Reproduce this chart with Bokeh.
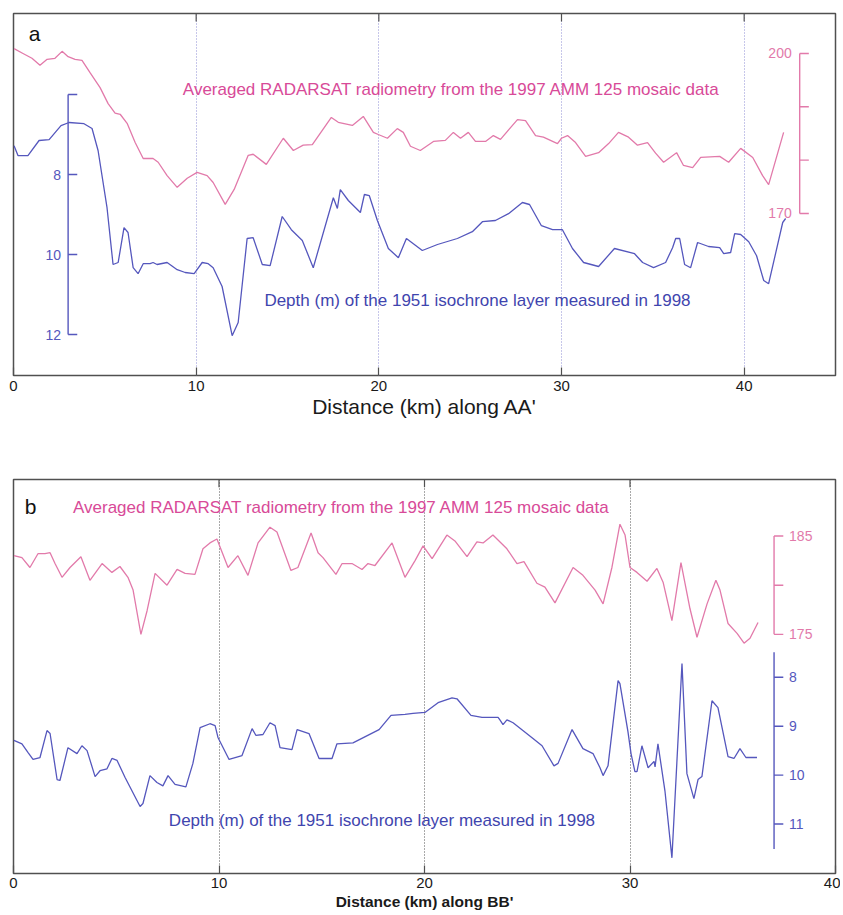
from bokeh.plotting import figure
from bokeh.models import Range1d, FixedTicker
from bokeh.layouts import column
from bokeh.core.properties import value
from bokeh.embed import file_html
from bokeh.resources import INLINE

# ---------------- data: panel a (profile AA') ----------------
a_rad_km = [0.03,0.52,1.01,1.45,1.84,2.27,2.66,2.99,3.37,3.75,4.19,4.74,5.18,5.56,5.84,6.22,6.66,7.10,7.64,7.92,
            8.41,8.96,9.51,10.05,10.60,10.93,11.59,12.08,12.85,13.12,13.84,14.77,15.32,15.86,16.36,17.40,17.78,18.55,19.15,19.70,
            19.97,20.47,21.01,21.34,21.73,22.27,22.99,23.64,24.08,24.47,24.90,25.29,25.84,26.27,26.66,27.21,27.59,28.03,28.58,29.01,
            29.78,30.00,30.33,30.77,31.32,32.03,32.58,33.12,33.67,34.16,34.71,35.15,35.59,36.30,36.68,37.18,37.62,38.66,39.15,39.81,
            40.47,41.01,41.34,42.16]
a_rad = [200.9,200.0,199.1,197.8,198.9,199.1,200.4,199.4,198.9,198.7,196.4,193.6,190.6,188.8,188.6,186.9,183.3,180.3,180.3,179.6,
         177.1,174.9,176.6,177.7,177.1,175.8,171.7,174.5,180.9,181.1,179.2,184.1,181.8,182.8,182.9,188.0,187.1,186.5,188.2,185.2,
         184.8,184.1,185.9,185.2,182.6,181.8,183.5,183.7,185.2,184.1,185.2,183.5,183.5,184.6,183.9,186.1,187.6,187.4,184.6,184.3,
         183.1,184.1,184.6,183.3,180.7,181.4,183.1,185.2,184.3,182.8,183.3,181.3,179.6,181.4,179.0,178.6,180.5,180.7,179.6,182.2,
         180.5,177.1,175.4,185.2]
a_dep_km = [0.03,0.25,0.79,1.40,1.95,2.60,3.04,3.86,4.30,4.63,5.12,5.45,5.73,6.05,6.27,6.55,6.82,7.10,7.48,7.64,
            7.86,8.41,8.96,9.40,9.89,10.33,10.66,10.93,11.42,11.97,12.30,12.79,13.12,13.62,14.05,14.71,15.21,15.81,16.41,17.51,
            17.73,17.89,18.33,18.99,19.21,19.48,19.92,20.52,21.07,21.51,21.89,22.38,23.21,24.30,25.12,25.67,26.38,27.10,27.86,28.25,
            28.90,29.51,30.05,30.60,31.21,32.03,32.90,34.00,34.44,35.04,35.70,36.08,36.25,36.47,36.74,37.07,37.45,38.05,38.66,38.88,
            39.26,39.48,39.81,40.25,40.68,41.07,41.34,42.11,42.27]
a_dep = [7.28,7.53,7.53,7.15,7.13,6.78,6.70,6.73,6.85,7.40,8.83,10.25,10.20,9.33,9.45,10.33,10.48,10.23,10.23,10.20,
         10.25,10.20,10.38,10.45,10.48,10.20,10.23,10.33,10.80,12.03,11.70,9.60,9.58,10.25,10.28,9.05,9.38,9.65,10.33,8.58,
         8.85,8.38,8.65,8.95,8.50,8.53,9.15,9.85,10.08,9.60,9.73,9.90,9.75,9.60,9.43,9.18,9.15,8.98,8.70,8.75,
         9.28,9.38,9.38,9.85,10.20,10.30,9.85,9.98,10.20,10.33,10.20,9.83,9.60,9.60,10.25,10.33,9.70,9.80,9.83,9.98,
         9.95,9.48,9.50,9.68,10.03,10.65,10.73,9.20,9.10]

# ---------------- data: panel b (profile BB') ----------------
b_rad_km = [0.02,0.41,0.80,1.19,1.53,1.78,2.02,2.36,2.75,3.28,3.72,4.31,4.79,5.18,5.57,5.82,6.20,6.50,6.89,7.47,
            7.96,8.35,8.83,9.22,9.56,9.90,10.44,10.92,11.41,11.90,12.48,12.82,13.50,13.84,14.48,14.82,15.06,15.69,15.99,16.47,
            16.96,17.25,17.59,18.42,19.05,19.54,19.93,20.37,21.09,21.48,22.07,22.55,22.85,23.33,24.01,24.50,24.84,25.47,25.86,26.35,
            27.23,27.71,28.30,28.69,29.12,29.51,29.76,30.00,30.34,30.83,31.31,31.61,32.04,32.48,32.92,33.26,33.75,34.18,34.38,34.77,
            35.21,35.55,35.84,36.23]
b_rad = [183.0,182.8,181.8,183.2,183.2,183.3,182.2,180.8,181.8,182.9,180.5,182.2,181.3,181.9,180.8,179.5,175.0,177.4,181.2,180.0,
         181.6,181.2,181.1,183.7,184.3,184.7,181.8,183.0,181.0,184.3,185.9,185.4,181.5,181.8,185.3,183.3,182.8,181.1,182.2,182.2,
         181.6,182.2,182.0,184.3,180.8,182.5,184.0,182.7,185.1,184.5,182.9,184.4,184.3,185.1,183.7,182.2,182.4,180.2,179.8,178.2,
         181.8,181.0,179.5,178.1,181.8,186.2,185.1,181.8,181.3,180.4,181.7,180.3,176.4,182.3,177.6,174.7,178.1,180.5,179.5,176.1,
         175.1,174.1,174.6,176.2]
b_dep_km = [0.02,0.41,0.71,0.95,1.29,1.63,1.78,2.12,2.26,2.65,3.09,3.33,3.58,3.97,4.21,4.55,4.79,5.04,5.43,6.16,
            6.30,6.64,6.98,7.27,7.52,7.86,8.39,8.73,9.08,9.56,9.81,9.95,10.49,11.12,11.61,11.80,12.14,12.48,12.73,12.97,
            13.55,13.80,14.38,14.87,15.50,15.74,16.52,17.79,18.37,19.05,19.44,20.02,20.66,21.34,21.58,22.26,22.80,23.58,23.67,23.82,
            24.01,24.31,25.28,25.72,26.30,26.50,27.18,27.71,28.20,28.54,28.69,28.93,29.42,29.51,29.90,30.05,30.24,30.34,30.58,30.88,
            31.17,31.22,31.36,31.70,32.04,32.53,32.77,33.11,33.31,33.50,33.99,34.28,34.77,35.06,35.35,35.64,36.18]
b_dep = [9.29,9.36,9.54,9.68,9.64,9.09,9.15,10.09,10.11,9.44,9.56,9.40,9.50,10.03,9.91,9.87,9.66,9.70,10.05,10.64,
         10.58,10.01,10.15,10.22,10.01,10.19,10.24,9.76,9.03,8.95,8.99,9.23,9.68,9.60,9.05,9.19,9.17,8.93,8.99,9.44,
         9.48,9.07,9.15,9.66,9.66,9.36,9.34,9.07,8.78,8.76,8.74,8.72,8.52,8.42,8.44,8.78,8.82,8.82,8.87,8.97,
         8.87,8.93,9.25,9.40,9.81,9.76,9.07,9.46,9.56,9.85,10.01,9.81,8.07,8.13,9.11,9.56,9.93,9.93,9.40,9.85,
         9.72,9.83,9.36,10.32,11.69,7.72,9.97,10.48,10.09,10.03,8.48,8.62,9.62,9.66,9.46,9.64,9.64]

x_ticks_a = [0, 10, 20, 30, 40]
x_ticks_b = [0, 10, 20, 30, 40]
a_rad_ticks = [170, 180, 190, 200]
a_rad_labels = ["170", "200"]
a_dep_ticks = [6, 8, 10, 12]
a_dep_labels = ["8", "10", "12"]
b_rad_ticks = [175, 180, 185]
b_rad_labels = ["175", "185"]
b_dep_ticks = [8, 9, 10, 11]
b_dep_labels = ["8", "9", "10", "11"]

rad_title = "Averaged RADARSAT radiometry from the 1997 AMM 125 mosaic data"
dep_title = "Depth (m) of the 1951 isochrone layer measured in 1998"

# ---------------- styles ----------------
FONT = "Liberation Sans"
PINK_LINE = "#e27aaa"
PINK_TEXT = "#d84a98"
BLUE_LINE = "#5557bd"
BLUE_TEXT = "#3f45ae"
FRAME = "#505050"


def base_fig(width, height, xr, yr, depth_r, bt, bb, title, title_style, title_size, grid_color):
    p = figure(width=width, height=height, x_range=Range1d(*xr), y_range=Range1d(*yr),
               output_backend="svg", toolbar_location=None, y_axis_location=None,
               min_border_left=13, min_border_right=5, min_border_top=bt, min_border_bottom=bb)
    p.extra_y_ranges = {"depth": Range1d(*depth_r)}
    p.outline_line_color = FRAME
    p.outline_line_width = 1.5
    p.background_fill_color = "white"
    p.border_fill_color = "white"
    ax = p.xaxis[0]
    ax.ticker = FixedTicker(ticks=x_ticks_a)
    ax.major_tick_in = 8
    ax.major_tick_out = 0
    ax.minor_tick_line_color = None
    ax.major_tick_line_color = FRAME
    ax.major_tick_line_width = 1.2
    ax.axis_line_color = None
    ax.major_label_text_font = FONT
    ax.major_label_text_font_size = "15px"
    ax.major_label_text_color = "#1a1a1a"
    ax.axis_label = title
    ax.axis_label_text_font = FONT
    ax.axis_label_text_font_style = title_style
    ax.axis_label_text_font_size = title_size
    ax.axis_label_text_color = "#1a1a1a"
    p.ygrid.grid_line_color = None
    p.xgrid.ticker = FixedTicker(ticks=x_ticks_a)
    p.xgrid.grid_line_color = grid_color
    p.xgrid.grid_line_dash = "1 2"
    p.xgrid.grid_line_width = 1.1
    return p


def top_ticks(p, ticks, ytop, length):
    p.segment(x0=ticks, y0=[ytop] * len(ticks), x1=ticks, y1=[ytop - length] * len(ticks),
              line_color=FRAME, line_width=1.2)


def inner_axis(p, xpos, lo, hi, ticks, labels, lab_vals, color, tick_len, lab_off, align, rng=None):
    kw = {} if rng is None else {"y_range_name": rng}
    p.segment(x0=[xpos], y0=[lo], x1=[xpos], y1=[hi], line_color=color, line_width=1.4, **kw)
    p.segment(x0=[xpos] * len(ticks), y0=ticks, x1=[xpos + tick_len] * len(ticks), y1=ticks,
              line_color=color, line_width=1.4, **kw)
    p.text(x=[xpos] * len(labels), y=lab_vals, text=labels, x_offset=lab_off,
           text_font=value(FONT), text_font_size="14px", text_color=color,
           text_align=align, text_baseline="middle", **kw)


# ---------------- panel a ----------------
pa = base_fig(840, 425, (0, 45), (139.6, 207.5), (13.025, 3.975), 13, 50,
              "Distance (km) along AA'", "normal", "21px", "#8f8fd6")
pa.xaxis[0].major_label_standoff = 5
pa.xaxis[0].axis_label_standoff = 1
top_ticks(pa, x_ticks_a[1:], 207.5, 1.5)
pa.line(a_rad_km, a_rad, line_color=PINK_LINE, line_width=1.3)
pa.line(a_dep_km, a_dep, line_color=BLUE_LINE, line_width=1.3, y_range_name="depth")
inner_axis(pa, 43.04, 170, 200, a_rad_ticks, a_rad_labels, [170, 200], PINK_LINE, 0.5, -8, "right")
inner_axis(pa, 2.99, 6, 12, a_dep_ticks, a_dep_labels, [8, 10, 12], BLUE_LINE, 0.5, -7, "right", "depth")
pa.text(x=[23.97], y=[193.25], text=[rad_title], text_font=value(FONT), text_font_size="17px",
        text_color=PINK_TEXT, text_align="center", text_baseline="middle")
pa.text(x=[25.4], y=[11.15], text=[dep_title], text_font=value(FONT), text_font_size="17px",
        text_color=BLUE_TEXT, text_align="center", text_baseline="middle", y_range_name="depth")
pa.text(x=[1.15], y=[203.8], text=["a"], text_font=value(FONT), text_font_size="21px",
        text_color="#111111", text_align="center", text_baseline="middle")

# ---------------- panel b ----------------
pb = base_fig(840, 490, (0, 40), (150.67, 190.75), (12.01, 3.96), 54, 42,
              "Distance (km) along BB'", "bold", "15.5px", "#555555")
pb.xaxis[0].major_label_standoff = 4
pb.xaxis[0].axis_label_standoff = 2
top_ticks(pb, x_ticks_b[1:4], 190.75, 0.8)
pb.line(b_rad_km, b_rad, line_color=PINK_LINE, line_width=1.3)
pb.line(b_dep_km, b_dep, line_color=BLUE_LINE, line_width=1.3, y_range_name="depth")
inner_axis(pb, 37.01, 175, 185, b_rad_ticks, b_rad_labels, [175, 185], PINK_LINE, 0.45, 15, "left")
inner_axis(pb, 37.01, 7.49, 11.51, b_dep_ticks, b_dep_labels, [8, 9, 10, 11], BLUE_LINE, 0.45, 15, "left", "depth")
pb.text(x=[15.96], y=[187.9], text=[rad_title], text_font=value(FONT), text_font_size="17px",
        text_color=PINK_TEXT, text_align="center", text_baseline="middle")
pb.text(x=[17.93], y=[10.93], text=[dep_title], text_font=value(FONT), text_font_size="17px",
        text_color=BLUE_TEXT, text_align="center", text_baseline="middle", y_range_name="depth")
pb.text(x=[0.83], y=[188.0], text=["b"], text_font=value(FONT), text_font_size="21px",
        text_color="#111111", text_align="center", text_baseline="middle")

layout = column(pa, pb, spacing=0)
open("out.html", "w").write(file_html(layout, INLINE))
